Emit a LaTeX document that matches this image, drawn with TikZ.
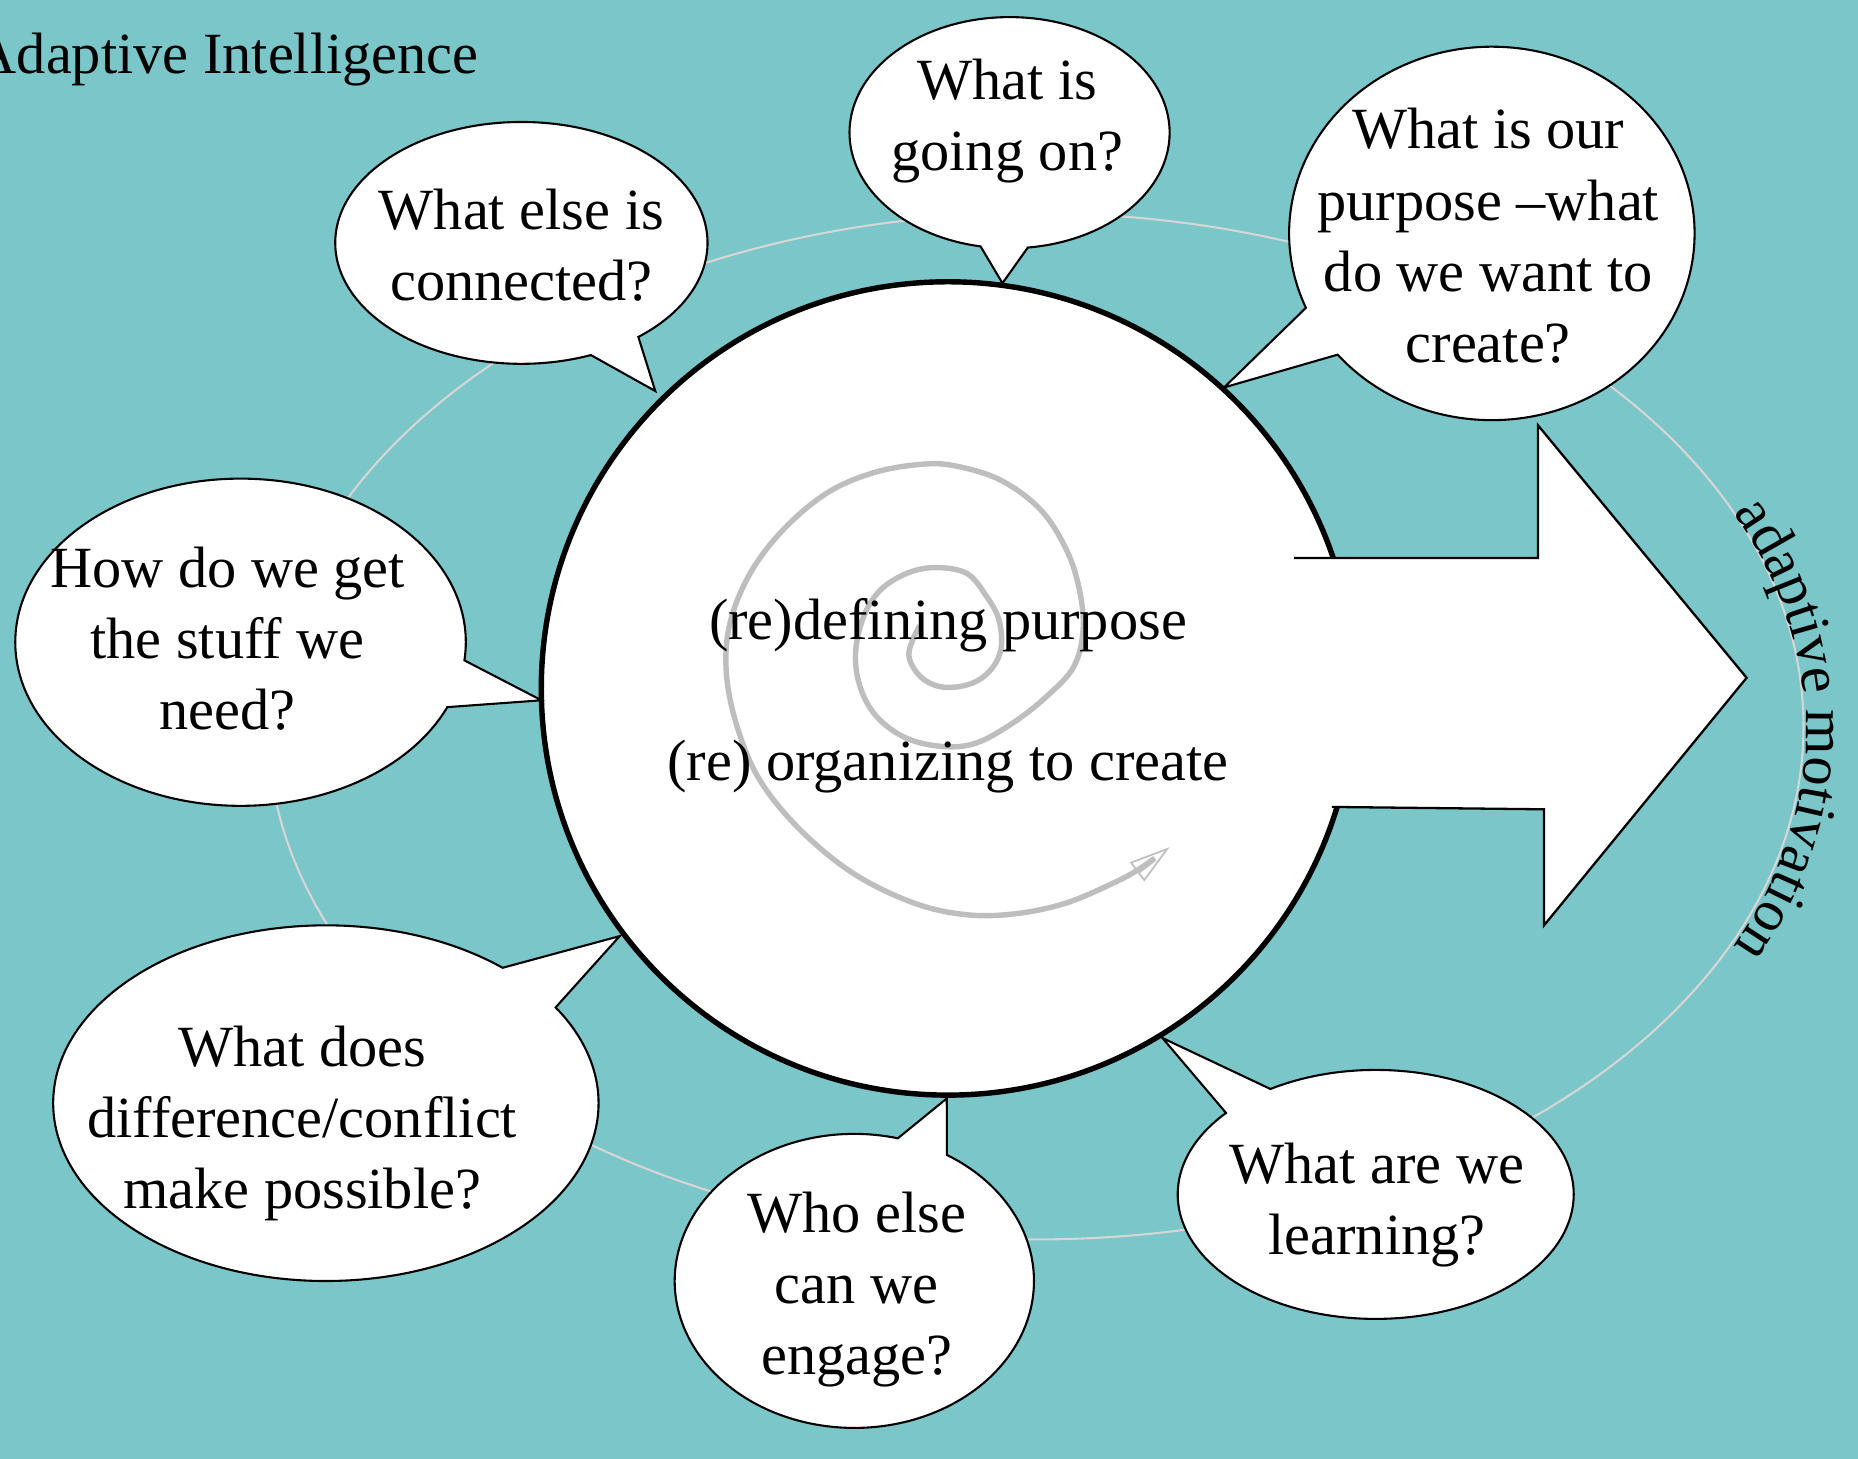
\documentclass[tikz,border=0pt]{standalone}
\usepackage{fontspec}
\setmainfont{Liberation Serif}
\usetikzlibrary{shapes.callouts,arrows.meta,decorations.text}
\newcommand{\qfont}{\fontsize{14}{17.07}\selectfont}
\definecolor{sea}{RGB}{122,198,200}
\definecolor{ringgray}{RGB}{214,214,214}
\definecolor{spiralgray}{RGB}{190,190,190}
\begin{document}
\begin{tikzpicture}[x=0.01cm, y=-0.01cm,
    bubble/.style = {ellipse callout, draw, fill=white, line width=0.5pt, inner sep=0pt, callout pointer arc=17},
    ask/.style = {align=center, inner sep=0pt, font=\qfont},
    hub/.style = {circle, draw, fill=white, line width=1.3pt, minimum size=6.86cm, inner sep=0pt}]
\useasboundingbox (0,0) rectangle (1568,1231);
\fill[sea] (0,0) rectangle (1568,1231);
\draw[ringgray, line width=0.5pt] (874,613) ellipse [x radius=648, y radius=433];

\node[hub] (hub) at (800,581) {};
\fill[white] (1092,471) -- (1298,471) -- (1298,359) -- (1474,572) -- (1303,781) -- (1303,683) -- (1124,681) -- cycle;
\draw[line width=0.55pt] (1092,471) -- (1298,471) -- (1298,359) -- (1474,572) -- (1303,781) -- (1303,683) -- (1124,681);

\draw[spiralgray, line width=1.3pt, -{Triangle[open, length=9.8pt, width=5.7pt, line width=0.4pt]}]
    plot[smooth, tension=0.6] coordinates {(776,528) (767,551) (774,568) (788,578) (805,580) (824,575)
    (838,563) (845,546) (843,523) (833,504) (816,484) (789,479) (765,484) (743,498) (729,520)
    (722,551) (726,580) (740,605) (765,623) (796,630) (824,627) (855,610) (883,588) (906,563)
    (914,532) (911,498) (900,464) (878,430) (844,405) (805,393) (776,392) (737,399) (698,416)
    (661,447) (633,484) (616,526) (613,568) (622,613) (641,658) (675,700) (720,737) (771,762)
    (816,772) (858,771) (900,762) (940,745) (962,733) (987,715)};

\node[ask] (define) at (800,528) {(re)defining purpose};
\node[ask] (organize) at (800,647) {(re) organizing to create};

\node[bubble, minimum width=2.70cm, minimum height=1.95cm, callout absolute pointer={(846,239)}] (going) at (852,112) {};
\node[ask] (goingtxt) at (850,102) {What is\\going on?};
\node[bubble, minimum width=3.42cm, minimum height=3.15cm, callout absolute pointer={(1033,327)}] (purpose) at (1259,197) {};
\node[ask] (purposetxt) at (1256,199) {What is our\\purpose –what\\do we want to\\create?};
\node[bubble, minimum width=3.14cm, minimum height=2.04cm, callout absolute pointer={(553,330)}] (connected) at (440,205) {};
\node[ask] (connectedtxt) at (440,207) {What else is\\connected?};
\node[bubble, minimum width=3.80cm, minimum height=2.76cm, callout absolute pointer={(457,591)}] (stuff) at (203,542) {};
\node[ask] (stufftxt) at (192,539) {How do we get\\the stuff we\\need?};
\node[bubble, minimum width=4.60cm, minimum height=3.00cm, callout absolute pointer={(523,790)}] (conflict) at (275,931) {};
\node[ask] (conflicttxt) at (255,948) {What does\\difference/conflict\\make possible?};
\node[bubble, minimum width=3.03cm, minimum height=2.48cm, callout absolute pointer={(799,927)}] (engage) at (721,1081) {};
\node[ask] (engagetxt) at (723,1088) {Who else\\can we\\engage?};
\node[bubble, minimum width=3.34cm, minimum height=2.10cm, callout absolute pointer={(981,876)}] (learning) at (1161,1008) {};
\node[ask] (learningtxt) at (1162,1017) {What are we\\learning?};

\node[ask, anchor=base west] (title) at (-22,62) {Adaptive Intelligence};
\path[decorate, decoration={text along path, text={|\qfont|adaptive motivation}, text align={center}}]
    (874,616) ++(-32:650 and 434) arc[start angle=-32, end angle=32, x radius=650, y radius=434];
\end{tikzpicture}
\end{document}
